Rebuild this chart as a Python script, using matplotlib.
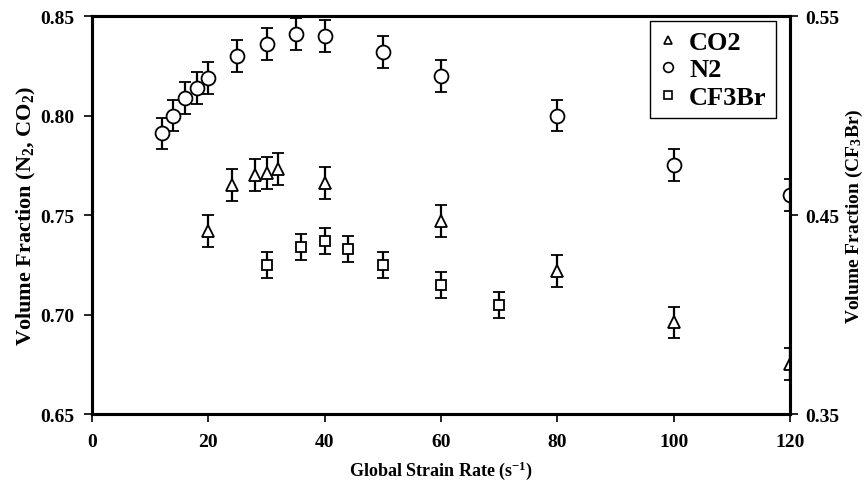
import matplotlib.pyplot as plt
from matplotlib.lines import Line2D
import numpy as np

plt.rcParams['font.family'] = ['Liberation Serif', 'DejaVu Serif']
plt.rcParams['font.weight'] = 'bold'
plt.rcParams['mathtext.fontset'] = 'custom'
plt.rcParams['mathtext.rm'] = 'Liberation Serif:bold'
plt.rcParams['mathtext.it'] = 'Liberation Serif:bold'
plt.rcParams['mathtext.bf'] = 'Liberation Serif:bold'
plt.rcParams['mathtext.default'] = 'rm'

# N2 (left axis)
n2_x = [12, 14, 16, 18, 20, 25, 30, 35, 40, 50, 60, 80, 100, 120]
n2_y = [0.791, 0.800, 0.809, 0.814, 0.819, 0.830, 0.836, 0.841, 0.840, 0.832, 0.820, 0.800, 0.775, 0.760]
n2_err = [0.008] * 14

# CO2 (left axis)
co2_x = [20, 24, 28, 30, 32, 40, 60, 80, 100, 120]
co2_y = [0.742, 0.765, 0.770, 0.771, 0.773, 0.766, 0.747, 0.722, 0.696, 0.675]
co2_err = [0.008] * 10

# CF3Br (right axis)
cf_x = [30, 36, 40, 44, 50, 60, 70]
cf_y = [0.425, 0.434, 0.437, 0.433, 0.425, 0.415, 0.405]
cf_err = [0.0065] * 7

left_ticks = [0.65, 0.70, 0.75, 0.80, 0.85]
right_ticks = [0.35, 0.45, 0.55]
x_ticks = [0, 20, 40, 60, 80, 100, 120]

fig = plt.figure(figsize=(8.65, 4.89), dpi=100)
ax = fig.add_axes([0.1064, 0.1513, 0.8069, 0.8139])
ax2 = ax.twinx()

style = dict(color='black', mfc='white', mec='black', ls='none', elinewidth=1.6,
             capsize=4, capthick=1.6, mew=1.3)
ax.errorbar(co2_x, co2_y, yerr=co2_err, marker='^', ms=9, **style)
ax.errorbar(n2_x, n2_y, yerr=n2_err, marker='o', ms=10, **style)
ax2.errorbar(cf_x, cf_y, yerr=cf_err, marker='s', ms=7.5, **style)

ax.set_xlim(0, 120)
ax.set_ylim(0.65, 0.85)
ax2.set_ylim(0.35, 0.55)
ax.set_xticks(x_ticks)
ax.set_yticks(left_ticks)
ax2.set_yticks(right_ticks)
ax.set_yticklabels(['%.2f' % v for v in left_ticks])
ax2.set_yticklabels(['%.2f' % v for v in right_ticks])

for a in (ax, ax2):
    for s in a.spines.values():
        s.set_linewidth(2.2)
    a.tick_params(direction='out', length=6, width=1.2, labelsize=14)
ax.tick_params(axis='x', pad=8)
ax.tick_params(axis='y', pad=7)
ax2.tick_params(axis='y', pad=5)

ax.set_xlabel('Global Strain Rate (s$^{-1}$)', fontsize=13, fontweight='bold', labelpad=6)
ax.set_ylabel('Volume Fraction (N$_2$, CO$_2$)', fontsize=16, fontweight='bold', labelpad=1)
ax2.set_ylabel('Volume Fraction (CF$_3$Br)', fontsize=14, fontweight='bold', labelpad=3)

handles = [Line2D([], [], ls='none', marker='^', ms=6, mfc='white', mec='black', mew=1.2),
           Line2D([], [], ls='none', marker='o', ms=7, mfc='white', mec='black', mew=1.2),
           Line2D([], [], ls='none', marker='s', ms=6, mfc='white', mec='black', mew=1.2)]
leg = ax2.legend(handles, ['CO2', 'N2', 'CF3Br'], loc='upper right',
                 bbox_to_anchor=(0.980, 0.987), fancybox=False, framealpha=1,
                 edgecolor='black', handlelength=0.7, handletextpad=0.45,
                 prop={'family': 'Liberation Serif', 'weight': 'bold', 'size': 19},
                 borderpad=0.35, labelspacing=0.15, borderaxespad=0)
leg.get_frame().set_linewidth(1.0)

fig.savefig('out.png', dpi=100)
